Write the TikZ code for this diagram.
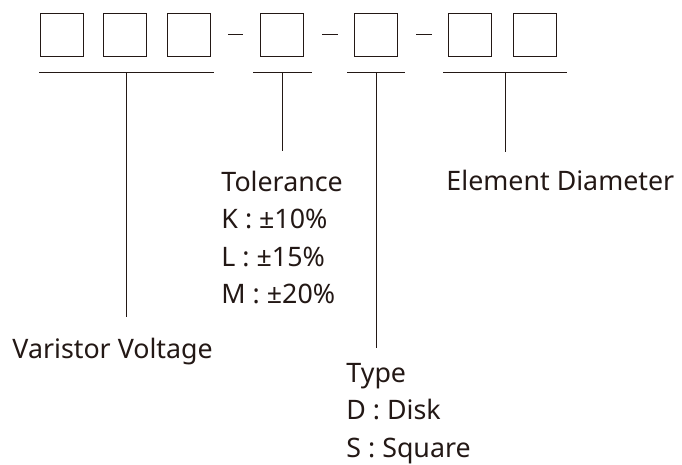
\documentclass[tikz,border=0pt]{standalone}
\usepackage{fontspec}
\setmainfont{Noto Sans}
\usepackage{tikz}
\usetikzlibrary{calc}

\definecolor{inkdark}{RGB}{35,24,21}

\begin{document}
\begin{tikzpicture}[x=1pt, y=-1pt, line width=0.9pt, inkdark]

    % === Stili ===
    \tikzset{
        digit/.style={draw=inkdark, minimum width=43pt, minimum height=43pt, inner sep=0pt},
        label/.style={anchor=base west, inner sep=0pt, text=inkdark, font=\fontsize{26.8}{26.8}\selectfont},
    }

    \useasboundingbox (0,0) rectangle (682,464);

    % === 1. Caselle del codice ===
    \node[digit] (b1) at (61.5, 34.5) {};
    \node[digit] (b2) at (125, 34.5) {};
    \node[digit] (b3) at (188.5, 34.5) {};
    \node[digit] (b4) at (281.5, 34.5) {};
    \node[digit] (b5) at (376, 34.5) {};
    \node[digit] (b6) at (470, 34.5) {};
    \node[digit] (b7) at (535, 34.5) {};

    % Trattini tra i gruppi
    \draw (228, 34.5) -- (243, 34.5);
    \draw (322, 34.5) -- (338, 34.5);
    \draw (416, 34.5) -- (432, 34.5);

    % === 2. Etichette ===
    \node[label] (volt) at (12, 358) {Varistor Voltage};
    \node[label] (tol)  at (221, 191) {Tolerance};
    \node[label] (tolK) at (221, 228.5) {K : ±10\%};
    \node[label] (tolL) at (221, 266) {L : ±15\%};
    \node[label] (tolM) at (221, 303.5) {M : ±20\%};
    \node[label] (typ)  at (346, 382) {Type};
    \node[label] (typD) at (346, 419.5) {D : Disk};
    \node[label] (typS) at (346, 457) {S : Square};
    \node[label] (diam) at (446, 190) {Element Diameter};

    % === 3. Graffe e linee di richiamo ===
    \coordinate (br1l) at (39, 72);  \coordinate (br1r) at (214, 72);
    \coordinate (br2l) at (253, 72); \coordinate (br2r) at (312, 72);
    \coordinate (br3l) at (347, 72); \coordinate (br3r) at (405, 72);
    \coordinate (br4l) at (443, 72); \coordinate (br4r) at (567, 72);

    \draw (br1l) -- (br1r);
    \draw (br2l) -- (br2r);
    \draw (br3l) -- (br3r);
    \draw (br4l) -- (br4r);

    % Estremi inferiori dei richiami
    \coordinate (e1) at (126.5, 317);
    \coordinate (e2) at (282.5, 151);
    \coordinate (e3) at (376, 348);
    \coordinate (e4) at (505, 152);

    \draw ($(br1l)!0.5!(br1r)$) -- (e1);
    \draw ($(br2l)!0.5!(br2r)$) -- (e2);
    \draw ($(br3l)!0.5!(br3r)$) -- (e3);
    \draw ($(br4l)!0.5!(br4r)$) -- (e4);

\end{tikzpicture}
\end{document}
